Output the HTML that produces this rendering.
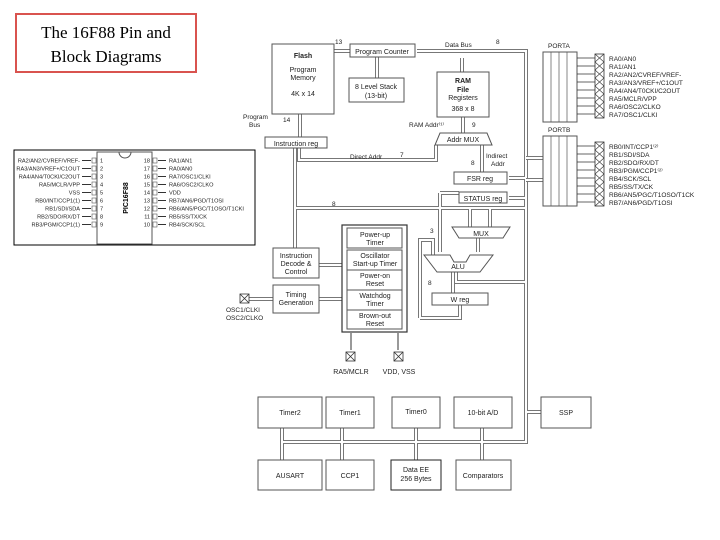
<!DOCTYPE html>
<html><head><meta charset="utf-8"><style>
html,body{margin:0;padding:0;background:#fff;}
svg{display:block;font-family:"Liberation Sans",sans-serif;}
.b{fill:#fff;stroke:#555;stroke-width:1;}
.bo{fill:none;stroke:#777;stroke-width:4;}
.bi{fill:none;stroke:#fff;stroke-width:2;}
.t{font-size:7px;fill:#222;text-anchor:middle;}
.tl{font-size:6.5px;fill:#222;}
.p{font-size:5.6px;fill:#222;}
.x{fill:#fff;stroke:#333;stroke-width:0.8;}
</style></head><body>
<svg width="720" height="540" viewBox="0 0 720 540">
<!-- title -->
<rect x="16" y="14" width="180" height="58" fill="#fff" stroke="#d9534f" stroke-width="2"/>
<text x="106" y="38" font-family="Liberation Serif" font-size="17" text-anchor="middle">The 16F88 Pin and</text>
<text x="106" y="62" font-family="Liberation Serif" font-size="17" text-anchor="middle">Block Diagrams</text>

<!-- pin diagram -->
<rect x="14" y="150" width="241" height="95" fill="#fff" stroke="#000" stroke-width="1"/>
<rect x="97" y="152" width="55" height="92" fill="#fff" stroke="#555"/>
<path d="M119,152 a6,6 0 0 0 12,0" fill="none" stroke="#555"/>
<text x="128" y="198" font-size="7" font-weight="bold" transform="rotate(-90 128 198)" text-anchor="middle">PIC16F88</text>
<g stroke="#555" stroke-width="0.6" fill="#fff">
<rect x="92" y="158" width="4" height="5"/><rect x="92" y="166" width="4" height="5"/><rect x="92" y="174" width="4" height="5"/><rect x="92" y="182" width="4" height="5"/><rect x="92" y="190" width="4" height="5"/><rect x="92" y="198" width="4" height="5"/><rect x="92" y="206" width="4" height="5"/><rect x="92" y="214" width="4" height="5"/><rect x="92" y="222" width="4" height="5"/>
<rect x="153" y="158" width="4" height="5"/><rect x="153" y="166" width="4" height="5"/><rect x="153" y="174" width="4" height="5"/><rect x="153" y="182" width="4" height="5"/><rect x="153" y="190" width="4" height="5"/><rect x="153" y="198" width="4" height="5"/><rect x="153" y="206" width="4" height="5"/><rect x="153" y="214" width="4" height="5"/><rect x="153" y="222" width="4" height="5"/>
</g>
<g stroke="#333" stroke-width="0.9">
<path d="M82,160.5 H91 M82,168.5 H91 M82,176.5 H91 M82,184.5 H91 M82,192.5 H91 M82,200.5 H91 M82,208.5 H91 M82,216.5 H91 M82,224.5 H91 M158,160.5 H166 M158,168.5 H166 M158,176.5 H166 M158,184.5 H166 M158,192.5 H166 M158,200.5 H166 M158,208.5 H166 M158,216.5 H166 M158,224.5 H166"/>
</g>
<g class="p">
<text x="80" y="162.5" text-anchor="end">RA2/AN2/CVREF/VREF-</text>
<text x="80" y="170.5" text-anchor="end">RA3/AN3/VREF+/C1OUT</text>
<text x="80" y="178.5" text-anchor="end">RA4/AN4/T0CKI/C2OUT</text>
<text x="80" y="186.5" text-anchor="end">RA5/MCLR/VPP</text>
<text x="80" y="194.5" text-anchor="end">VSS</text>
<text x="80" y="202.5" text-anchor="end">RB0/INT/CCP1(1)</text>
<text x="80" y="210.5" text-anchor="end">RB1/SDI/SDA</text>
<text x="80" y="218.5" text-anchor="end">RB2/SDO/RX/DT</text>
<text x="80" y="226.5" text-anchor="end">RB3/PGM/CCP1(1)</text>
<text x="100" y="162.5">1</text><text x="100" y="170.5">2</text><text x="100" y="178.5">3</text><text x="100" y="186.5">4</text><text x="100" y="194.5">5</text><text x="100" y="202.5">6</text><text x="100" y="210.5">7</text><text x="100" y="218.5">8</text><text x="100" y="226.5">9</text>
<g text-anchor="end"><text x="150" y="162.5">18</text><text x="150" y="170.5">17</text><text x="150" y="178.5">16</text><text x="150" y="186.5">15</text><text x="150" y="194.5">14</text><text x="150" y="202.5">13</text><text x="150" y="210.5">12</text><text x="150" y="218.5">11</text><text x="150" y="226.5">10</text></g>
<text x="169" y="162.5">RA1/AN1</text>
<text x="169" y="170.5">RA0/AN0</text>
<text x="169" y="178.5">RA7/OSC1/CLKI</text>
<text x="169" y="186.5">RA6/OSC2/CLKO</text>
<text x="169" y="194.5">VDD</text>
<text x="169" y="202.5">RB7/AN6/PGD/T1OSI</text>
<text x="169" y="210.5">RB6/AN5/PGC/T1OSO/T1CKI</text>
<text x="169" y="218.5">RB5/SS/TX/CK</text>
<text x="169" y="226.5">RB4/SCK/SCL</text>
</g>

<!-- buses -->
<g>
<path class="bo" d="M417,51 H526 V442 H282 M509,178 H526 M509,198 H526 M295,148 V248 M295,208 H526 M470,208 V227 M490,208 V227 M299,148 V160 H436 V145 M482,145 V172 M462,58 V72 M463,117 V133 M377,57 V78 M300,114 V137 M478,238 V252 M453,272 V293 M456,272 V282 H526 M420,318 V240 H433 V255 M420,318 H460 V305 M440,193 V252 M440,193 H459 M282,428 V460 M342,428 V460 M416,428 V460 M482,428 V460 M526,412 H541 M249,299 H273 M319,299 H342 M319,265 H342"/>
<path class="bi" d="M417,51 H526 V442 H282 M509,178 H526 M509,198 H526 M295,148 V248 M295,208 H526 M470,208 V227 M490,208 V227 M299,148 V160 H436 V145 M482,145 V172 M462,58 V72 M463,117 V133 M377,57 V78 M300,114 V137 M478,238 V252 M453,272 V293 M456,272 V282 H526 M420,318 V240 H433 V255 M420,318 H460 V305 M440,193 V252 M440,193 H459 M282,428 V460 M342,428 V460 M416,428 V460 M482,428 V460 M526,412 H541 M249,299 H273 M319,299 H342 M319,265 H342"/>
<path class="bo" d="M334,51 H350"/><path class="bi" d="M334,51 H350"/>
<path class="bo" d="M526,158 H543 M526,180 H543"/><path class="bi" d="M526,158 H543 M526,180 H543"/>
</g>

<!-- blocks -->
<rect class="b" x="272" y="44" width="62" height="70"/>
<text class="t" x="303" y="58" font-weight="bold">Flash</text>
<text class="t" x="303" y="72">Program</text><text class="t" x="303" y="80">Memory</text>
<text class="t" x="303" y="96">4K x 14</text>
<rect class="b" x="350" y="44" width="65" height="13"/><text class="t" x="382" y="54">Program Counter</text>
<rect class="b" x="349" y="78" width="55" height="24"/><text class="t" x="376" y="89">8 Level Stack</text><text class="t" x="376" y="98">(13-bit)</text>
<rect class="b" x="437" y="72" width="52" height="45"/>
<text class="t" x="463" y="83" font-weight="bold">RAM</text><text class="t" x="463" y="92" font-weight="bold">File</text>
<text class="t" x="463" y="100">Registers</text><text class="t" x="463" y="111">368 x 8</text>
<path class="b" d="M440,133 H487 L492,145 H435 Z"/><text class="t" x="463" y="142">Addr MUX</text>
<rect class="b" x="265" y="137" width="62" height="11"/><text class="t" x="296" y="146">Instruction reg</text>
<rect class="b" x="454" y="172" width="53" height="12"/><text class="t" x="480" y="181">FSR reg</text>
<rect class="b" x="459" y="192" width="48" height="11"/><text class="t" x="483" y="201">STATUS reg</text>
<path class="b" d="M452,227 H510 L503,238 H459 Z"/><text class="t" x="481" y="236">MUX</text>
<path class="b" d="M424,255 H450 L454,262 H466 L470,255 H493 L480,272 H437 Z"/><text class="t" x="458" y="269">ALU</text>
<rect class="b" x="432" y="293" width="56" height="12"/><text class="t" x="460" y="302">W reg</text>
<rect class="b" x="273" y="248" width="46" height="30"/>
<text class="t" x="296" y="258">Instruction</text><text class="t" x="296" y="266">Decode &amp;</text><text class="t" x="296" y="274">Control</text>
<rect class="b" x="273" y="285" width="46" height="28"/>
<text class="t" x="296" y="297">Timing</text><text class="t" x="296" y="305">Generation</text>
<rect x="342" y="225" width="65" height="107" fill="#fff" stroke="#333" stroke-width="1.2"/>
<g class="b"><rect x="347" y="228" width="55" height="20"/><rect x="347" y="250" width="55" height="20"/><rect x="347" y="270" width="55" height="20"/><rect x="347" y="290" width="55" height="20"/><rect x="347" y="310" width="55" height="19"/></g>
<text class="t" x="375" y="237">Power-up</text><text class="t" x="375" y="245">Timer</text>
<text class="t" x="375" y="258">Oscillator</text><text class="t" x="375" y="266">Start-up Timer</text>
<text class="t" x="375" y="278">Power-on</text><text class="t" x="375" y="286">Reset</text>
<text class="t" x="375" y="298">Watchdog</text><text class="t" x="375" y="306">Timer</text>
<text class="t" x="375" y="318">Brown-out</text><text class="t" x="375" y="326">Reset</text>
<path d="M351,350 V333 M398,350 V333" stroke="#333"/>
<rect class="x" x="346" y="352" width="9" height="9"/><path d="M346,352 l9,9 M355,352 l-9,9" stroke="#333" stroke-width="0.8"/>
<rect class="x" x="394" y="352" width="9" height="9"/><path d="M394,352 l9,9 M403,352 l-9,9" stroke="#333" stroke-width="0.8"/>
<text class="t" x="351" y="374">RA5/MCLR</text><text class="t" x="399" y="374">VDD, VSS</text>
<rect class="x" x="240" y="294" width="9" height="9"/><path d="M240,294 l9,9 M249,294 l-9,9" stroke="#333" stroke-width="0.8"/>
<text class="tl" x="226" y="312">OSC1/CLKI</text><text class="tl" x="226" y="320">OSC2/CLKO</text>

<!-- labels -->
<text class="tl" x="335" y="44">13</text><text class="tl" x="445" y="47">Data Bus</text><text class="tl" x="496" y="44">8</text>
<text class="tl" x="243" y="119">Program</text><text class="tl" x="249" y="127">Bus</text><text class="tl" x="283" y="122">14</text>
<text class="tl" x="409" y="127">RAM Addr⁽¹⁾</text><text class="tl" x="472" y="127">9</text>
<text class="tl" x="350" y="159">Direct Addr</text><text class="tl" x="400" y="157">7</text>
<text class="tl" x="486" y="158">Indirect</text><text class="tl" x="491" y="166">Addr</text><text class="tl" x="471" y="165">8</text>
<text class="tl" x="332" y="206">8</text><text class="tl" x="430" y="233">3</text><text class="tl" x="428" y="285">8</text>

<!-- ports -->
<text class="tl" x="548" y="48">PORTA</text>
<rect class="b" x="543" y="52" width="34" height="70"/>
<path d="M551,52 V122 M559,52 V122 M567,52 V122" stroke="#555" stroke-width="0.7"/>
<text class="tl" x="548" y="132">PORTB</text>
<rect class="b" x="543" y="136" width="34" height="70"/>
<path d="M551,136 V206 M559,136 V206 M567,136 V206" stroke="#555" stroke-width="0.7"/>
<g stroke="#333" stroke-width="0.7">
<path d="M577,58 H595 M577,66 H595 M577,74 H595 M577,82 H595 M577,90 H595 M577,98 H595 M577,106 H595 M577,114 H595 M577,146 H595 M577,154 H595 M577,162 H595 M577,170 H595 M577,178 H595 M577,186 H595 M577,194 H595 M577,202 H595"/>
</g>
<g>
<rect class="x" x="595" y="54" width="9" height="64"/>
<rect class="x" x="595" y="142" width="9" height="64"/>
<path stroke="#333" stroke-width="0.6" fill="none" d="M595,54 l9,8 M604,54 l-9,8 M595,62 l9,8 M604,62 l-9,8 M595,70 l9,8 M604,70 l-9,8 M595,78 l9,8 M604,78 l-9,8 M595,86 l9,8 M604,86 l-9,8 M595,94 l9,8 M604,94 l-9,8 M595,102 l9,8 M604,102 l-9,8 M595,110 l9,8 M604,110 l-9,8 M595,142 l9,8 M604,142 l-9,8 M595,150 l9,8 M604,150 l-9,8 M595,158 l9,8 M604,158 l-9,8 M595,166 l9,8 M604,166 l-9,8 M595,174 l9,8 M604,174 l-9,8 M595,182 l9,8 M604,182 l-9,8 M595,190 l9,8 M604,190 l-9,8 M595,198 l9,8 M604,198 l-9,8"/>
</g>
<g class="tl">
<text x="609" y="61">RA0/AN0</text><text x="609" y="69">RA1/AN1</text><text x="609" y="77">RA2/AN2/CVREF/VREF-</text><text x="609" y="85">RA3/AN3/VREF+/C1OUT</text>
<text x="609" y="93">RA4/AN4/T0CKI/C2OUT</text><text x="609" y="101">RA5/MCLR/VPP</text><text x="609" y="109">RA6/OSC2/CLKO</text><text x="609" y="117">RA7/OSC1/CLKI</text>
<text x="609" y="149">RB0/INT/CCP1⁽²⁾</text><text x="609" y="157">RB1/SDI/SDA</text><text x="609" y="165">RB2/SDO/RX/DT</text><text x="609" y="173">RB3/PGM/CCP1⁽²⁾</text>
<text x="609" y="181">RB4/SCK/SCL</text><text x="609" y="189">RB5/SS/TX/CK</text><text x="609" y="197">RB6/AN5/PGC/T1OSO/T1CK</text><text x="609" y="205">RB7/AN6/PGD/T1OSI</text>
</g>

<!-- peripherals -->
<rect class="b" x="258" y="397" width="64" height="31"/><text class="t" x="290" y="415">Timer2</text>
<rect class="b" x="326" y="397" width="48" height="31"/><text class="t" x="350" y="415">Timer1</text>
<rect class="b" x="392" y="397" width="48" height="31"/><text class="t" x="416" y="414">Timer0</text>
<rect class="b" x="454" y="397" width="58" height="31"/><text class="t" x="483" y="415">10-bit A/D</text>
<rect class="b" x="541" y="397" width="50" height="31"/><text class="t" x="566" y="415">SSP</text>
<rect class="b" x="258" y="460" width="64" height="30"/><text class="t" x="290" y="478">AUSART</text>
<rect class="b" x="326" y="460" width="48" height="30"/><text class="t" x="350" y="478">CCP1</text>
<rect x="391" y="460" width="50" height="30" fill="#fff" stroke="#222"/><text class="t" x="416" y="472">Data EE</text><text class="t" x="416" y="481">256 Bytes</text>
<rect class="b" x="456" y="460" width="55" height="30"/><text class="t" x="483" y="478">Comparators</text>
</svg>
</body></html>
